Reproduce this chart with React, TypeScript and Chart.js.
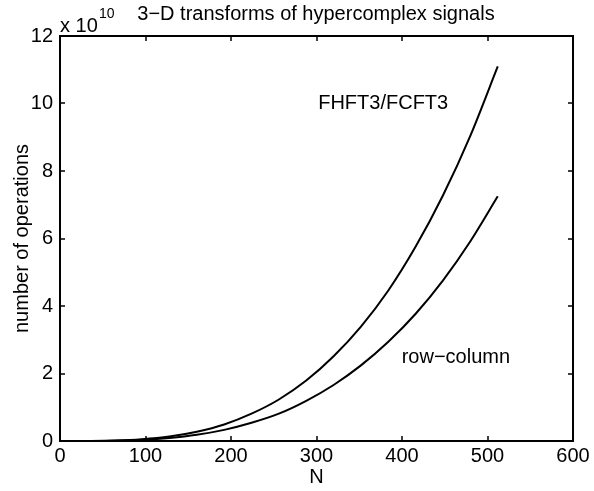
import React, { useEffect, useRef } from "react";
import { Chart, registerables } from "chart.js";

Chart.register(...registerables);

const N = [0, 16, 32, 64, 96, 128, 160, 192, 224, 256, 288, 320, 352, 384, 416, 448, 480, 512];
const fhft3 = [0, 0.0002, 0.0015, 0.0145, 0.054, 0.135, 0.276, 0.49, 0.81, 1.23, 1.79, 2.51, 3.39, 4.46, 5.76, 7.28, 9.05, 11.1];
const rowColumn = [0, 0.0001, 0.001, 0.01, 0.037, 0.092, 0.185, 0.33, 0.54, 0.81, 1.19, 1.66, 2.24, 2.94, 3.77, 4.76, 5.92, 7.25];
const xTicks = [0, 100, 200, 300, 400, 500, 600];
const yTicks = [0, 2, 4, 6, 8, 10, 12];
const title = "3\u2212D transforms of hypercomplex signals";
const xLabel = "N";
const yLabel = "number of operations";
const labelA = { text: "FHFT3/FCFT3", x: 378, y: 9.99 };
const labelB = { text: "row\u2212column", x: 463, y: 2.46 };

const FONT = "'Liberation Sans', Arial, Helvetica, sans-serif";
const FS = 20;

export default function App() {
  const ref = useRef<HTMLCanvasElement | null>(null);
  useEffect(() => {
    const canvas = ref.current!;
    const textPlugin = {
      id: "matlabDecor",
      afterDraw(chart: any) {
        const ctx = chart.ctx as CanvasRenderingContext2D;
        const a = chart.chartArea;
        const xs = chart.scales.x;
        const ys = chart.scales.y;
        ctx.save();
        ctx.strokeStyle = "#000";
        ctx.lineWidth = 2;
        ctx.strokeRect(a.left, a.top, a.right - a.left, a.bottom - a.top);
        ctx.lineWidth = 1.5;
        ctx.beginPath();
        xTicks.forEach((t) => {
          const px = Math.round(xs.getPixelForValue(t));
          ctx.moveTo(px, a.bottom);
          ctx.lineTo(px, a.bottom - 5);
          ctx.moveTo(px, a.top);
          ctx.lineTo(px, a.top + 5);
        });
        yTicks.forEach((t) => {
          const py = Math.round(ys.getPixelForValue(t));
          ctx.moveTo(a.left, py);
          ctx.lineTo(a.left + 5, py);
          ctx.moveTo(a.right, py);
          ctx.lineTo(a.right - 5, py);
        });
        ctx.stroke();
        ctx.fillStyle = "#000";
        ctx.textBaseline = "middle";
        ctx.font = `${FS}px ${FONT}`;
        ctx.textAlign = "center";
        ctx.fillText(title, 316, 14);
        ctx.fillText(xLabel, (a.left + a.right) / 2, 477);
        ctx.textAlign = "left";
        ctx.fillText("x 10", a.left, 26);
        ctx.font = `14px ${FONT}`;
        ctx.fillText("10", a.left + 39, 14);
        ctx.font = `${FS}px ${FONT}`;
        ctx.textAlign = "center";
        ctx.fillText(labelA.text, xs.getPixelForValue(labelA.x), ys.getPixelForValue(labelA.y));
        ctx.fillText(labelB.text, xs.getPixelForValue(labelB.x), ys.getPixelForValue(labelB.y));
        ctx.translate(22, (a.top + a.bottom) / 2);
        ctx.rotate(-Math.PI / 2);
        ctx.fillText(yLabel, 0, 0);
        ctx.restore();
      },
    };
    const chart = new Chart(canvas, {
      type: "line",
      data: {
        datasets: [
          {
            data: N.map((n, i) => ({ x: n, y: fhft3[i] })),
            borderColor: "#000",
            borderWidth: 2,
            pointRadius: 0,
            cubicInterpolationMode: "monotone",
          },
          {
            data: N.map((n, i) => ({ x: n, y: rowColumn[i] })),
            borderColor: "#000",
            borderWidth: 2,
            pointRadius: 0,
            cubicInterpolationMode: "monotone",
          },
        ],
      },
      options: {
        animation: false,
        responsive: false,
        maintainAspectRatio: false,
        layout: { padding: { top: 36, right: 21, left: 0, bottom: 0 } },
        plugins: { legend: { display: false }, tooltip: { enabled: false }, title: { display: false } },
        scales: {
          x: {
            type: "linear",
            min: 0,
            max: 600,
            afterBuildTicks: (s: any) => {
              s.ticks = xTicks.map((v) => ({ value: v }));
            },
            afterFit: (s: any) => {
              s.height = 50;
            },
            grid: { display: false, drawTicks: false },
            border: { display: false },
            ticks: { color: "#000", font: { family: FONT, size: FS }, padding: 3, maxRotation: 0, autoSkip: false },
          },
          y: {
            type: "linear",
            min: 0,
            max: 12,
            afterBuildTicks: (s: any) => {
              s.ticks = yTicks.map((v) => ({ value: v }));
            },
            afterFit: (s: any) => {
              s.width = 60;
            },
            grid: { display: false, drawTicks: false },
            border: { display: false },
            ticks: { color: "#000", font: { family: FONT, size: FS }, padding: 7, autoSkip: false },
          },
        },
      },
      plugins: [textPlugin],
    } as any);
    return () => chart.destroy();
  }, []);
  return (
    <div style={{ position: "absolute", left: 0, top: 0, width: 594, height: 491, background: "#fff" }}>
      <canvas ref={ref} width={594} height={491} style={{ display: "block" }} />
    </div>
  );
}
